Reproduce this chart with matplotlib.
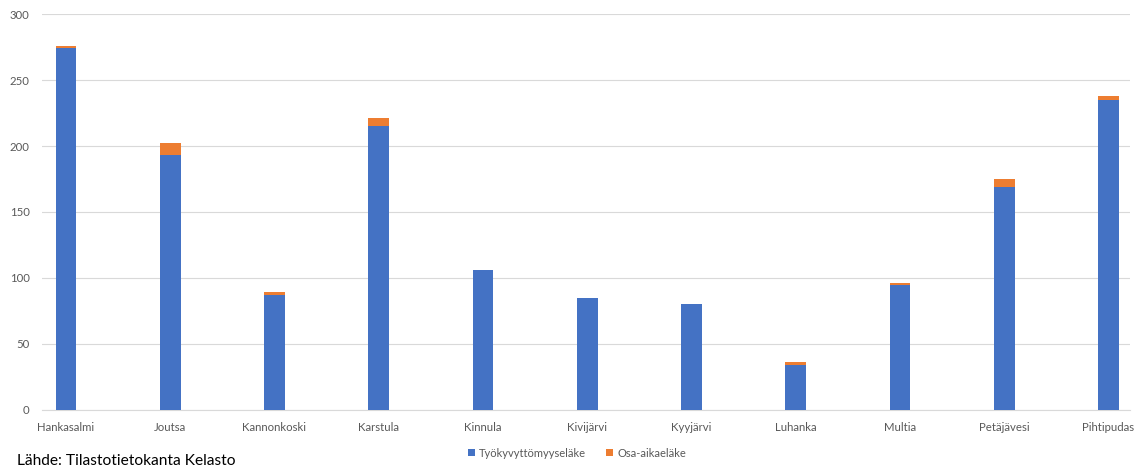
import numpy as np
import matplotlib.pyplot as plt

kunnat = ["Hankasalmi", "Joutsa", "Kannonkoski", "Karstula", "Kinnula", "Kivijärvi",
          "Kyyjärvi", "Luhanka", "Multia", "Petäjävesi", "Pihtipudas"]
tyokyvyttomyys = [274, 193, 87, 215, 106, 85, 80, 34, 95, 169, 235]
osa_aika = [2, 9, 2, 6, 0, 0, 0, 2, 1, 6, 3]

blue = "#4472C4"
orange = "#ED7D31"
grid = "#D9D9D9"
txt = "#595959"

plt.rcParams["font.family"] = ["Lato", "DejaVu Sans"]

fig = plt.figure(figsize=(11.36, 4.69), dpi=100)
ax = fig.add_axes([0.037, 0.126, 0.958, 0.844])

x = np.arange(len(kunnat))
ax.bar(x, tyokyvyttomyys, width=0.2, color=blue, label="Työkyvyttömyyseläke", zorder=3)
ax.bar(x, osa_aika, width=0.2, bottom=tyokyvyttomyys, color=orange, label="Osa-aikaeläke", zorder=3)

ax.set_xlim(-0.23, 10.21)
ax.set_ylim(0, 300)
ax.set_yticks(range(0, 301, 50))
ax.set_xticks(x)
ax.set_xticklabels(kunnat)
ax.tick_params(axis="both", length=0, labelsize=8.2, colors=txt)
ax.tick_params(axis="x", pad=9)
ax.tick_params(axis="y", pad=9)
ax.grid(axis="y", color=grid, linewidth=0.8, zorder=0)
for s in ["top", "right", "left"]:
    ax.spines[s].set_visible(False)
ax.spines["bottom"].set_color(grid)

fig.legend(loc="center", bbox_to_anchor=(0.508, 0.034), ncol=2, frameon=False,
           fontsize=8.0, handlelength=0.6, handleheight=0.6, handletextpad=0.4,
           columnspacing=1.8, labelcolor=txt)

fig.text(0.015, 0.008, "Lähde: Tilastotietokanta Kelasto", fontsize=11.2, color="black")

plt.savefig("out.png", dpi=100)
